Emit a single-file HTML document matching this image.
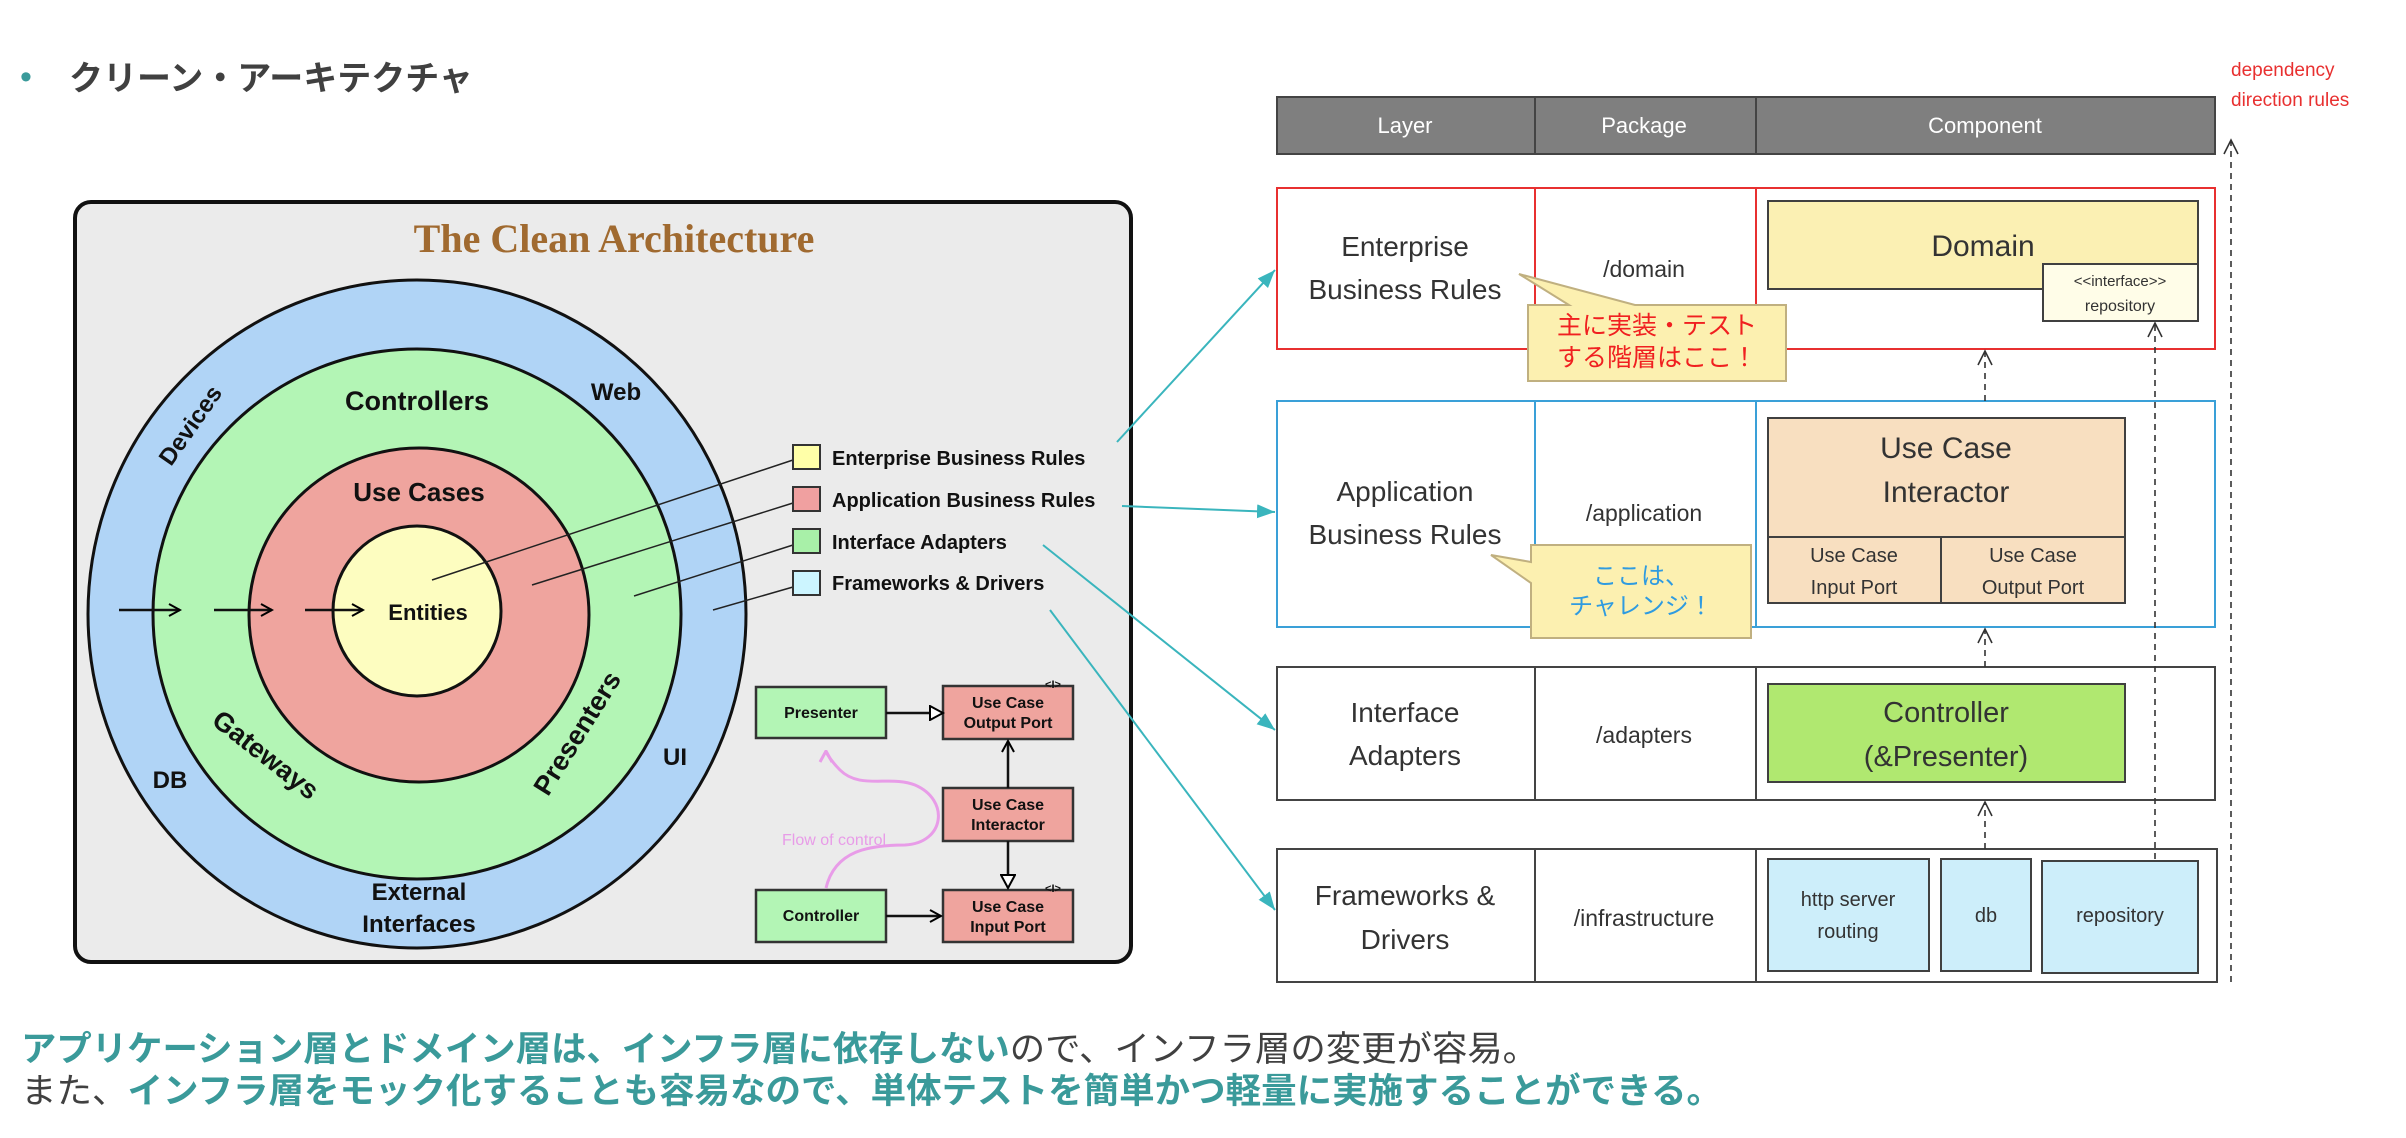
<!DOCTYPE html>
<html><head><meta charset="utf-8"><style>
html,body{margin:0;padding:0;background:#fff;}
svg{display:block;}
</style></head><body>
<svg width="2406" height="1138" viewBox="0 0 2406 1138" xmlns="http://www.w3.org/2000/svg" font-family="Liberation Sans, Noto Sans CJK JP, sans-serif">
<defs>
<marker id="open" markerWidth="14" markerHeight="14" refX="12" refY="7" orient="auto" markerUnits="userSpaceOnUse"><path d="M1,1 L12,7 L1,13" fill="none" stroke="#000" stroke-width="2"/></marker>
<marker id="tri" markerWidth="16" markerHeight="16" refX="14" refY="8" orient="auto" markerUnits="userSpaceOnUse"><path d="M1,1 L14,8 L1,15 Z" fill="#fff" stroke="#000" stroke-width="2"/></marker>
<marker id="cy" markerWidth="20" markerHeight="20" refX="18" refY="10" orient="auto" markerUnits="userSpaceOnUse"><path d="M0,3 L18,10 L0,17 Z" fill="#3ab5bd"/></marker>
<marker id="dsh" markerWidth="20" markerHeight="20" refX="17" refY="10" orient="auto" markerUnits="userSpaceOnUse"><path d="M3,3 L17,10 L3,17" fill="none" stroke="#333" stroke-width="1.6"/></marker>
<marker id="pk" markerWidth="16" markerHeight="16" refX="8" refY="2" orient="0" markerUnits="userSpaceOnUse"><path d="M2,12 L8,1 L14,12" fill="none" stroke="#e89ce8" stroke-width="3"/></marker>
</defs>

<!-- title -->
<text x="20" y="88" font-size="34" fill="#3a9a9a">•</text>
<text x="69" y="90" font-size="34" font-weight="bold" fill="#404040">クリーン・アーキテクチャ</text>

<!-- clean arch panel -->
<rect x="75" y="202" width="1056" height="760" rx="16" fill="#ebebeb" stroke="#111" stroke-width="4"/>
<text x="614" y="252" text-anchor="middle" font-family="Liberation Serif, serif" font-size="40" font-weight="bold" fill="#a06a30">The Clean Architecture</text>

<ellipse cx="417" cy="614" rx="329" ry="334" fill="#b0d4f6" stroke="#111" stroke-width="3"/>
<ellipse cx="417" cy="614" rx="264" ry="265" fill="#b3f5b5" stroke="#111" stroke-width="3"/>
<ellipse cx="419" cy="615" rx="170" ry="167" fill="#efa49e" stroke="#111" stroke-width="3"/>
<ellipse cx="417" cy="611" rx="84" ry="85" fill="#fdfdc0" stroke="#111" stroke-width="3"/>

<g font-weight="bold" fill="#111" text-anchor="middle">
<text x="417" y="410" font-size="27">Controllers</text>
<text x="616" y="400" font-size="24">Web</text>
<text x="419" y="501" font-size="26">Use Cases</text>
<text x="428" y="620" font-size="22">Entities</text>
<text x="170" y="788" font-size="24">DB</text>
<text x="675" y="765" font-size="24">UI</text>
<text x="419" y="900" font-size="24">External</text>
<text x="419" y="932" font-size="24">Interfaces</text>
<text transform="translate(197,430) rotate(-55)" font-size="24">Devices</text>
<text transform="translate(260,762) rotate(38)" font-size="27">Gateways</text>
<text transform="translate(585,738) rotate(-58)" font-size="27">Presenters</text>
</g>
<g stroke="#111" stroke-width="2.5">
<line x1="119" y1="610" x2="180" y2="610" marker-end="url(#open)"/>
<line x1="214" y1="610" x2="272" y2="610" marker-end="url(#open)"/>
<line x1="305" y1="610" x2="363" y2="610" marker-end="url(#open)"/>
</g>
<g stroke="#222" stroke-width="1.5">
<line x1="793" y1="460" x2="432" y2="580"/>
<line x1="793" y1="503" x2="532" y2="585"/>
<line x1="793" y1="545" x2="634" y2="596"/>
<line x1="793" y1="587" x2="713" y2="610"/>
</g>
<g stroke="#333" stroke-width="2">
<rect x="793" y="445" width="27" height="24" fill="#ffffa8"/>
<rect x="793" y="487" width="27" height="24" fill="#f0a0a0"/>
<rect x="793" y="529" width="27" height="24" fill="#a8f0a8"/>
<rect x="793" y="571" width="27" height="24" fill="#ccf5ff"/>
</g>
<g font-size="20" font-weight="bold" fill="#111">
<text x="832" y="465">Enterprise Business Rules</text>
<text x="832" y="507">Application Business Rules</text>
<text x="832" y="549">Interface Adapters</text>
<text x="832" y="590">Frameworks &amp; Drivers</text>
</g>

<!-- small diagram -->
<path d="M826,888 C835,850 870,845 905,845 C945,843 950,800 915,785 C890,775 860,790 840,770 C830,760 828,755 826,752" fill="none" stroke="#e89ce8" stroke-width="3" marker-end="url(#pk)"/>
<text x="782" y="845" font-size="16" fill="#e89ce8">Flow of control</text>
<g stroke="#333" stroke-width="2.5" font-size="16" font-weight="bold" text-anchor="middle">
<rect x="756" y="687" width="130" height="51" fill="#b3f5b5"/>
<rect x="943" y="686" width="130" height="53" fill="#efa49e"/>
<rect x="943" y="788" width="130" height="53" fill="#efa49e"/>
<rect x="756" y="890" width="130" height="52" fill="#b3f5b5"/>
<rect x="943" y="890" width="130" height="52" fill="#efa49e"/>
</g>
<g font-size="16" font-weight="bold" text-anchor="middle" fill="#111">
<text x="821" y="718">Presenter</text>
<text x="1008" y="708">Use Case</text><text x="1008" y="728">Output Port</text>
<text x="1008" y="810">Use Case</text><text x="1008" y="830">Interactor</text>
<text x="821" y="921">Controller</text>
<text x="1008" y="912">Use Case</text><text x="1008" y="932">Input Port</text>
<text x="1053" y="688" font-size="11">&lt;I&gt;</text>
<text x="1053" y="892" font-size="11">&lt;I&gt;</text>
</g>
<g stroke="#111" stroke-width="2.5">
<line x1="886" y1="713" x2="943" y2="713" marker-end="url(#tri)"/>
<line x1="1008" y1="788" x2="1008" y2="741" marker-end="url(#open)"/>
<line x1="1008" y1="841" x2="1008" y2="888" marker-end="url(#tri)"/>
<line x1="886" y1="916" x2="941" y2="916" marker-end="url(#open)"/>
</g>

<!-- cyan connectors -->
<g stroke="#3ab5bd" stroke-width="2" fill="none">
<line x1="1117" y1="442" x2="1275" y2="270" marker-end="url(#cy)"/>
<line x1="1122" y1="506" x2="1275" y2="512" marker-end="url(#cy)"/>
<line x1="1043" y1="545" x2="1275" y2="730" marker-end="url(#cy)"/>
<line x1="1050" y1="610" x2="1275" y2="910" marker-end="url(#cy)"/>
</g>

<!-- right table header -->
<rect x="1277" y="97" width="938" height="57" fill="#7f7f7f" stroke="#444" stroke-width="2"/>
<line x1="1535" y1="97" x2="1535" y2="154" stroke="#444" stroke-width="2"/>
<line x1="1756" y1="97" x2="1756" y2="154" stroke="#444" stroke-width="2"/>
<g fill="#fff" font-size="22" text-anchor="middle">
<text x="1405" y="133">Layer</text><text x="1644" y="133">Package</text><text x="1985" y="133">Component</text>
</g>

<!-- rows -->
<g fill="#fff" stroke-width="2">
<rect x="1277" y="188" width="938" height="161" stroke="#e83030"/>
<line x1="1535" y1="188" x2="1535" y2="349" stroke="#e83030"/><line x1="1756" y1="188" x2="1756" y2="349" stroke="#e83030"/>
<rect x="1277" y="401" width="938" height="226" stroke="#3aa0d8"/>
<line x1="1535" y1="401" x2="1535" y2="627" stroke="#3aa0d8"/><line x1="1756" y1="401" x2="1756" y2="627" stroke="#3aa0d8"/>
<rect x="1277" y="667" width="938" height="133" stroke="#444"/>
<line x1="1535" y1="667" x2="1535" y2="800" stroke="#444"/><line x1="1756" y1="667" x2="1756" y2="800" stroke="#444"/>
<rect x="1277" y="849" width="940" height="133" stroke="#444"/>
<line x1="1535" y1="849" x2="1535" y2="982" stroke="#444"/><line x1="1756" y1="849" x2="1756" y2="982" stroke="#444"/>
</g>
<g font-size="28" fill="#333" text-anchor="middle">
<text x="1405" y="256">Enterprise</text><text x="1405" y="299">Business Rules</text>
<text x="1405" y="501">Application</text><text x="1405" y="544">Business Rules</text>
<text x="1405" y="722">Interface</text><text x="1405" y="765">Adapters</text>
<text x="1405" y="905">Frameworks &amp;</text><text x="1405" y="949">Drivers</text>
</g>
<g font-size="23" fill="#333" text-anchor="middle">
<text x="1644" y="277">/domain</text>
<text x="1644" y="521">/application</text>
<text x="1644" y="743">/adapters</text>
<text x="1644" y="926">/infrastructure</text>
</g>

<!-- components -->
<g stroke="#404040" stroke-width="2">
<rect x="1768" y="201" width="430" height="88" fill="#fbf0b3"/>
<rect x="2043" y="264" width="155" height="57" fill="#fffde8"/>
<rect x="1768" y="418" width="357" height="185" fill="#f8dfc0"/>
<line x1="1768" y1="537" x2="2125" y2="537"/><line x1="1941" y1="537" x2="1941" y2="603"/>
<rect x="1768" y="684" width="357" height="98" fill="#b0e870"/>
<rect x="1768" y="859" width="161" height="112" fill="#cdeefa"/>
<rect x="1941" y="859" width="90" height="112" fill="#cdeefa"/>
<rect x="2042" y="861" width="156" height="112" fill="#cdeefa"/>
</g>
<g fill="#333" text-anchor="middle">
<text x="1983" y="256" font-size="30">Domain</text>
<text x="2120" y="286" font-size="15">&lt;&lt;interface&gt;&gt;</text>
<text x="2120" y="311" font-size="16">repository</text>
<text x="1946" y="458" font-size="30">Use Case</text>
<text x="1946" y="502" font-size="30">Interactor</text>
<text x="1854" y="562" font-size="20">Use Case</text><text x="1854" y="594" font-size="20">Input Port</text>
<text x="2033" y="562" font-size="20">Use Case</text><text x="2033" y="594" font-size="20">Output Port</text>
<text x="1946" y="722" font-size="29">Controller</text>
<text x="1946" y="766" font-size="29">(&amp;Presenter)</text>
<text x="1848" y="906" font-size="20">http server</text><text x="1848" y="938" font-size="20">routing</text>
<text x="1986" y="922" font-size="20">db</text>
<text x="2120" y="922" font-size="20">repository</text>
</g>

<!-- dashed dependency arrows -->
<g stroke="#333" stroke-width="1.6" stroke-dasharray="6,5" fill="none">
<line x1="1985" y1="401" x2="1985" y2="351" marker-end="url(#dsh)"/>
<line x1="1985" y1="667" x2="1985" y2="629" marker-end="url(#dsh)"/>
<line x1="1985" y1="849" x2="1985" y2="802" marker-end="url(#dsh)"/>
<line x1="2155" y1="859" x2="2155" y2="323" marker-end="url(#dsh)"/>
<line x1="2231" y1="982" x2="2231" y2="140" marker-end="url(#dsh)"/>
</g>
<g fill="#e83030" font-size="19">
<text x="2231" y="76">dependency</text><text x="2231" y="106">direction rules</text>
</g>

<!-- callouts -->
<path d="M1528,305 L1569,305 L1519,274 L1635,305 L1786,305 L1786,381 L1528,381 Z" fill="#fcf0b0" stroke="#c0b080" stroke-width="2"/>
<g fill="#f02020" font-size="25" text-anchor="middle">
<text x="1657" y="334">主に実装・テスト</text><text x="1657" y="366">する階層はここ！</text>
</g>
<path d="M1531,545 L1751,545 L1751,638 L1531,638 L1531,583 L1491,555 L1531,562 Z" fill="#fcf0b0" stroke="#c0b080" stroke-width="2"/>
<g fill="#2f9be0" font-size="24" text-anchor="middle">
<text x="1641" y="584">ここは、</text><text x="1641" y="614">チャレンジ！</text>
</g>

<!-- bottom text -->
<text x="21" y="1061" font-size="35" textLength="1517" lengthAdjust="spacingAndGlyphs"><tspan fill="#3a9a9a" font-weight="bold">アプリケーション層とドメイン層は、インフラ層に依存しない</tspan><tspan fill="#404040">ので、インフラ層の変更が容易。</tspan></text>
<text x="21" y="1103" font-size="35" textLength="1701" lengthAdjust="spacingAndGlyphs"><tspan fill="#404040">また、</tspan><tspan fill="#3a9a9a" font-weight="bold">インフラ層をモック化することも容易なので、単体テストを簡単かつ軽量に実施することができる。</tspan></text>
</svg>
</body></html>
